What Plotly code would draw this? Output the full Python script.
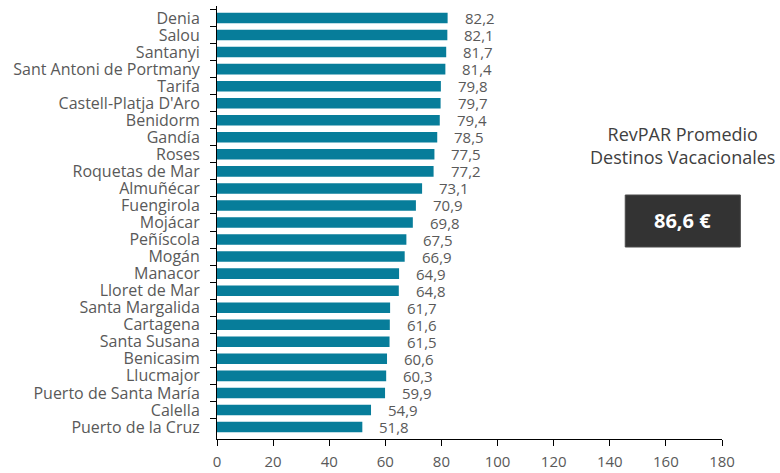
import plotly.graph_objects as go

categories = ["Denia", "Salou", "Santanyi", "Sant Antoni de Portmany", "Tarifa",
              "Castell-Platja D'Aro", "Benidorm", "Gandía", "Roses", "Roquetas de Mar",
              "Almuñécar", "Fuengirola", "Mojácar", "Peñíscola", "Mogán", "Manacor",
              "Lloret de Mar", "Santa Margalida", "Cartagena", "Santa Susana",
              "Benicasim", "Llucmajor", "Puerto de Santa María", "Calella",
              "Puerto de la Cruz"]
revpar = [82.2, 82.1, 81.7, 81.4, 79.8, 79.7, 79.4, 78.5, 77.5, 77.2, 73.1, 70.9,
          69.8, 67.5, 66.9, 64.9, 64.8, 61.7, 61.6, 61.5, 60.6, 60.3, 59.9, 54.9, 51.8]
x_ticks = [0, 20, 40, 60, 80, 100, 120, 140, 160, 180]
title_lines = ["RevPAR Promedio", "Destinos Vacacionales"]
average_label = "86,6 €"

def fmt(v):
    return f"{v:.1f}".replace(".", ",")

FONT = "Open Sans, sans-serif"
TXT = "#595959"

fig = go.Figure()
fig.add_trace(go.Bar(
    x=revpar, y=categories, orientation="h",
    marker=dict(color="#077d9a", line=dict(width=0)),
    width=0.62, hoverinfo="x+y",
))

annotations = []
for c, v in zip(categories, revpar):
    annotations.append(dict(
        x=v, y=c, xref="x", yref="y", text=fmt(v), showarrow=False,
        xanchor="left", yanchor="middle", xshift=15, yshift=0,
        font=dict(family=FONT, size=15, color=TXT),
    ))

annotations.append(dict(
    x=0.9224, y=0.678, xref="paper", yref="paper",
    text="<br>".join(title_lines), showarrow=False, align="center",
    xanchor="center", yanchor="middle",
    font=dict(family=FONT, size=18, color="#404040"),
))
annotations.append(dict(
    x=0.9224, y=0.5035, xref="paper", yref="paper",
    text=f"<b>{average_label}</b>", showarrow=False,
    xanchor="center", yanchor="middle",
    font=dict(family=FONT, size=20, color="white"),
))

fig.update_layout(
    width=780, height=473,
    margin=dict(l=217, r=58, t=6, b=34, pad=0, autoexpand=False),
    paper_bgcolor="white", plot_bgcolor="white",
    showlegend=False,
    annotations=annotations,
    shapes=[dict(type="rect", xref="paper", yref="paper",
                 x0=0.8084, x1=1.0363, y0=0.4434, y1=0.5635,
                 fillcolor="#333333", line=dict(color="#4a4a4a", width=1), layer="above")],
    xaxis=dict(
        range=[0, 180], tickvals=x_ticks, ticks="outside", ticklen=6,
        tickcolor="#000", showline=True, linecolor="#000", linewidth=1,
        showgrid=False, zeroline=False, automargin=False,
        tickfont=dict(family=FONT, size=15, color=TXT),
        ticklabelstandoff=3,
        fixedrange=True,
    ),
    yaxis=dict(
        type="category", autorange="reversed", tickson="boundaries",
        tickmode="linear", dtick=1,
        ticks="outside", ticklen=6, tickcolor="#000",
        showline=True, linecolor="#000", linewidth=1, showgrid=False,
        tickfont=dict(family=FONT, size=16, color=TXT),
        ticklabelstandoff=13, automargin=False,
        fixedrange=True,
    ),
)

fig.write_html("out.html", config={"displayModeBar": False},
               post_script="document.body.style.margin='0';")
